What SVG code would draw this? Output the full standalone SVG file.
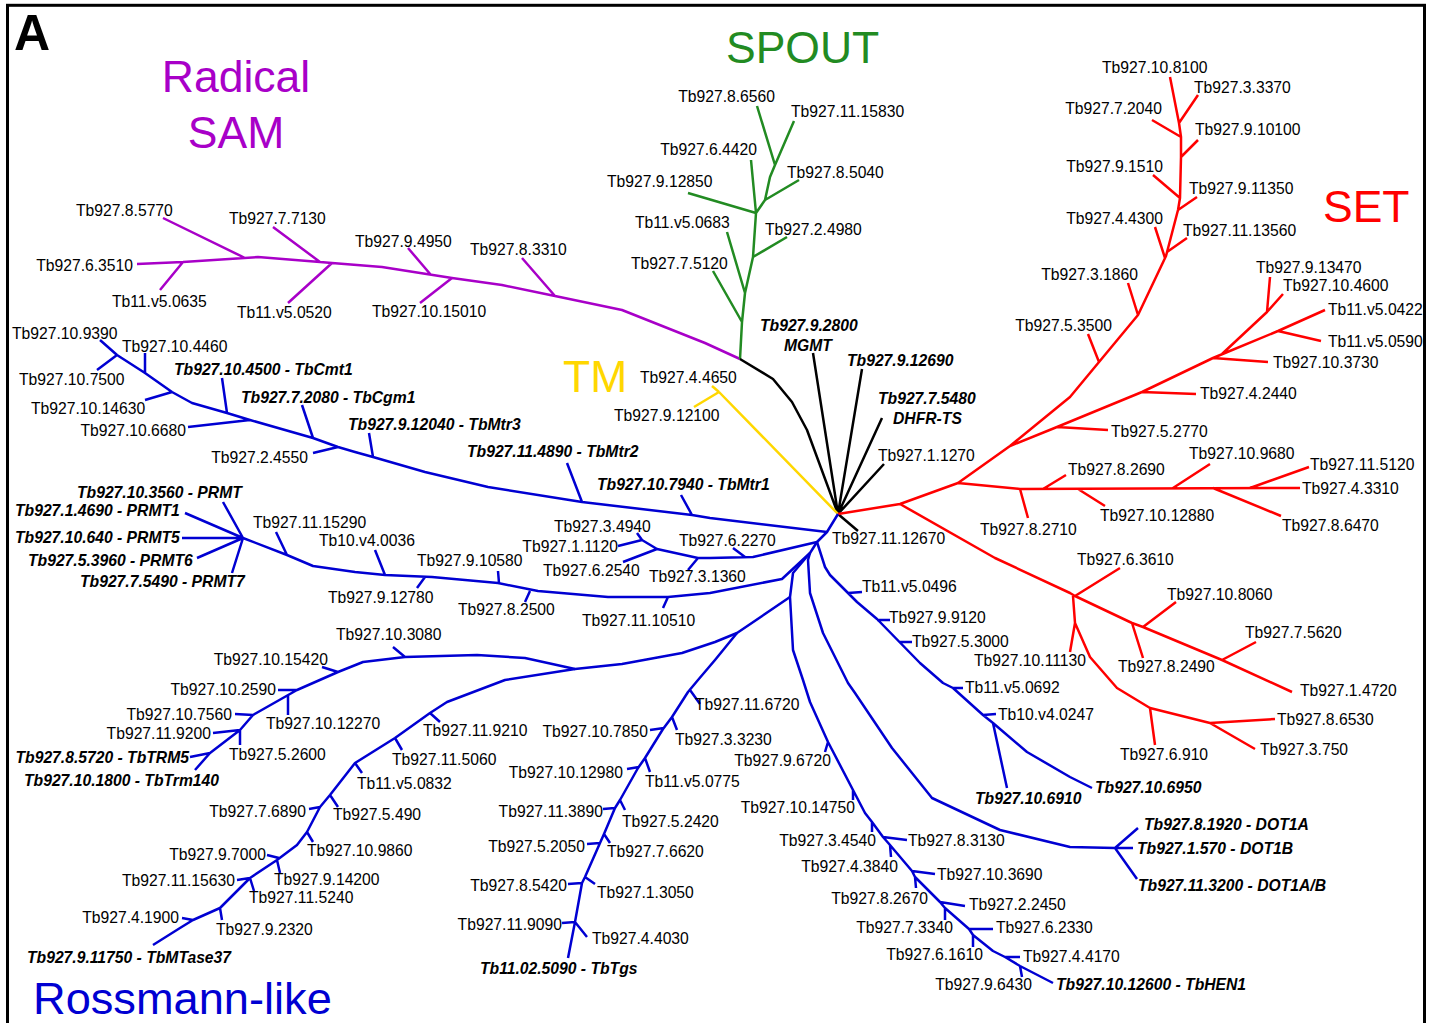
<svg xmlns="http://www.w3.org/2000/svg" width="1431" height="1023" viewBox="0 0 1431 1023">
<style>
.t{font-family:"Liberation Sans",Arial,sans-serif;font-size:15.7px;fill:#000}
.bi{font-weight:bold;font-style:italic}
.e{text-anchor:end}
.big{font-family:"Liberation Sans",Arial,sans-serif;font-size:44.5px}
.ln{fill:none;stroke-width:2.5;stroke-linejoin:round;stroke-linecap:butt}
.pu{stroke:#a800c8}.gr{stroke:#228b22}.bk{stroke:#000}.ye{stroke:#ffd700}.rd{stroke:#ff0000}.bl{stroke:#0000d2}
</style>
<rect x="0" y="0" width="1431" height="1023" fill="#fff"/>
<rect x="7.5" y="5.3" width="1417" height="1040" fill="none" stroke="#000" stroke-width="3"/>
<g id="titles">
<text x="14" y="50" font-family="Liberation Sans,Arial,sans-serif" font-size="50" font-weight="bold">A</text>
<text class="big" x="236" y="92" text-anchor="middle" fill="#a800c8">Radical</text>
<text class="big" x="236" y="148" text-anchor="middle" fill="#a800c8">SAM</text>
<text class="big" x="726" y="63" fill="#228b22">SPOUT</text>
<text class="big" x="1323" y="222" fill="#ff0000">SET</text>
<text class="big" x="563" y="392" fill="#ffd700">TM</text>
<text class="big" x="33" y="1014" fill="#0000d2" style="font-size:45.2px">Rossmann-like</text>
</g>
<g id="connectors">
<path class="ln pu" d="M137,264 L183,262 L258,257 L320,262 L332,263 L382,267 L452,278 L502,285 L555,296 L622,310 L705,343 L740,359 M245,258 L163,218 M183,262 L160,290 M320,262 L273,227 M332,263 L288,303 M431,275 L408,248 M452,278 L420,303 M555,296 L522,258"/>
<path class="ln gr" d="M740,359 L742,322 L745,293 L753,257 L756,213 L765,200 L770,177 L775,165 M775,165 L757,106 M775,165 L794,121 M765,200 L799,180 M756,213 L751,160 M756,213 L688,193 M753,257 L787,237 M745,293 L727,232 M742,322 L713,271"/>
<path class="ln bk" d="M838,514 L807,430 L792,402 L773,379 L740,359 M838,514 L813,353 M838,514 L862,369 M838,514 L882,418 M838,514 L884,464 M838,514 L858,531"/>
<path class="ln ye" d="M838,514 L719,392 M719,392 L694,407 M719,392 L712,386"/>
<path class="ln rd" d="M838,514 L900,504 L958,483 L1010,446 L1070,397 L1138,315 L1166,256 L1178,210 L1180,198 L1181,157 L1181,137 L1179,123 L1170,77 M1179,123 L1198,95 M1181,137 L1152,120 M1181,157 L1198,140 M1180,198 L1153,175 M1178,210 L1197,197 M1165,258 L1155,227 M1167,252 L1187,238 M1138,315 L1128,283 M1099,362 L1088,334 M1010,446 L1057,427 L1142,392 L1213,358 L1225,353 L1278,331 M1057,427 L1108,430 M1142,392 L1196,394 M1213,358 L1268,362 M1222,354 L1267,312 L1270,277 M1267,312 L1283,294 M1278,331 L1325,310 M1278,331 L1321,341 M958,483 L1020,489 L1300,488 M1020,489 L1028,518 M1043,489 L1066,475 M1078,489 L1105,506 M1173,488 L1210,464 M1213,488 L1281,516 M1250,488 L1309,467 M900,504 L995,558 L1070,593 L1075,596 L1132,623 L1143,627 L1222,660 L1292,692 M1075,596 L1120,568 M1132,623 L1143,658 M1143,627 L1176,602 M1222,660 L1256,642 M1073,596 L1075,623 L1070,652 M1075,623 L1090,657 L1110,680 L1117,688 L1150,708 L1210,723 L1275,719 M1210,723 L1255,749 M1150,708 L1155,745"/>
<path class="ln bl" d="M827,532 L710,518 L692,515 L582,502 L488,487 L425,472 L373,457 L355,452 L338,447 L313,438 L250,420 L227,413 L192,403 L172,392 L145,373 L117,355 L100,340 M692,515 L681,495 M582,502 L567,463 M373,457 L369,433 M338,447 L313,453 M313,438 L302,405 M250,420 L188,427 M227,413 L222,378 M172,392 L145,400 M145,373 L145,353 M117,355 L97,370"/>
<path class="ln bl" d="M838,514 L827,532 L817,542 L810,553 L793,573 L790,597 L793,650 L803,680 L810,702 L828,742 L853,790 L865,813 L872,822 L883,837 L890,845 L912,871 L915,877 L940,902 L945,908 L969,929 L973,935 L993,951 L1005,957 L1020,966 L1053,983 M828,742 L825,752 M853,790 L853,800 M872,822 L872,832 M883,837 L907,840 M890,845 L891,857 M912,871 L935,874 M915,877 L916,888 M940,902 L965,906 M945,908 L945,920 M969,929 L993,929 M973,935 L973,947 M1005,957 L1020,957 M1020,966 L1022,977"/>
<path class="ln bl" d="M817,542 L753,557 L710,558 L698,558 L657,549 L642,540 L637,533 M642,540 L618,546 M657,549 L623,562 M745,557 L733,548 M698,558 L688,570"/>
<path class="ln bl" d="M810,553 L782,579 L710,593 L668,597 L608,597 L538,591 L498,583 L432,577 L385,575 L355,572 L313,566 L287,555 L243,538 M668,597 L663,608 M530,591 L525,602 M499,583 L498,571 M425,577 L417,588 M385,575 L375,550 M287,555 L276,532 M243,538 L223,502 M243,538 L185,513 M243,538 L182,538 M243,538 L197,558 M243,538 L232,573"/>
<path class="ln bl" d="M817,542 L825,567 L830,575 L857,602 L877,619 L920,663 L943,683 L953,688 L983,715 L993,723 L1027,752 L1070,777 L1092,788 M848,593 L862,592 M877,620 L890,620 M900,642 L912,642 M953,688 L963,688 M983,715 L996,714 M993,723 L1007,788"/>
<path class="ln bl" d="M810,553 L808,560 L810,593 L823,633 L848,683 L855,693 L892,748 L932,798 L1000,830 L1070,847 L1115,848 M1115,848 L1138,828 M1115,848 L1133,848 M1115,848 L1137,879"/>
<path class="ln bl" d="M790,597 L737,633 L715,642 L682,653 L622,664 L575,669 L525,658 L477,655 L405,657 L363,662 L338,672 L297,690 L253,715 L240,730 L210,753 L195,770 M405,657 L393,647 M338,672 L322,667 M297,690 L278,690 M288,695 L288,715 M253,715 L235,714 M240,730 L213,733 M240,730 L240,745 M210,753 L190,757"/>
<path class="ln bl" d="M575,669 L505,680 L447,702 L430,713 L395,738 L355,763 L330,795 L320,807 L307,832 L297,845 L277,860 L250,878 L220,908 L193,920 L180,928 L153,945 M430,713 L440,722 M395,738 L402,750 M355,763 L362,773 M330,795 L338,807 M320,807 L309,809 M307,832 L313,842 M279,858 L267,855 M277,860 L280,873 M250,878 L237,880 M250,878 L254,891 M220,908 L222,920 M193,920 L182,918"/>
<path class="ln bl" d="M737,633 L715,660 L698,680 L688,692 L672,717 L663,729 L645,758 L638,768 L620,800 L615,808 L604,834 L600,843 L585,877 L582,883 L575,922 L568,958 M690,690 L700,704 M672,717 L677,730 M664,728 L650,730 M645,758 L650,772 M639,767 L627,769 M620,800 L625,810 M615,808 L603,809 M604,834 L610,843 M600,843 L587,844 M585,877 L595,884 M582,883 L568,884 M575,922 L562,923 M575,922 L587,937"/>
</g>
<g id="n_8_5770"><text class="t" x="76" y="216">Tb927.8.5770</text></g>
<g id="n_7_7130"><text class="t" x="229" y="224">Tb927.7.7130</text></g>
<g id="n_9_4950"><text class="t" x="355" y="247">Tb927.9.4950</text></g>
<g id="n_8_3310"><text class="t" x="470" y="255">Tb927.8.3310</text></g>
<g id="n_6_3510"><text class="t e" x="133" y="271">Tb927.6.3510</text></g>
<g id="n_11_0635"><text class="t" x="112" y="307">Tb11.v5.0635</text></g>
<g id="n_11_0520"><text class="t" x="237" y="318">Tb11.v5.0520</text></g>
<g id="n_10_15010"><text class="t" x="372" y="317">Tb927.10.15010</text></g>
<g id="n_8_6560"><text class="t e" x="775" y="102">Tb927.8.6560</text></g>
<g id="n_11_15830"><text class="t" x="791" y="117">Tb927.11.15830</text></g>
<g id="n_6_4420"><text class="t e" x="757" y="155">Tb927.6.4420</text></g>
<g id="n_8_5040"><text class="t" x="787" y="178">Tb927.8.5040</text></g>
<g id="n_9_12850"><text class="t" x="607" y="187">Tb927.9.12850</text></g>
<g id="n_11_0683"><text class="t" x="635" y="228">Tb11.v5.0683</text></g>
<g id="n_2_4980"><text class="t" x="765" y="235">Tb927.2.4980</text></g>
<g id="n_7_5120"><text class="t" x="631" y="269">Tb927.7.5120</text></g>
<g id="n_9_2800"><text class="t bi" x="760" y="331">Tb927.9.2800</text><text class="t bi" x="784" y="351">MGMT</text></g>
<g id="n_9_12690"><text class="t bi" x="847" y="366">Tb927.9.12690</text></g>
<g id="n_7_5480"><text class="t bi" x="878" y="404">Tb927.7.5480</text><text class="t bi" x="893" y="424">DHFR-TS</text></g>
<g id="n_1_1270"><text class="t" x="878" y="461">Tb927.1.1270</text></g>
<g id="n_11_12670"><text class="t" x="832" y="544">Tb927.11.12670</text></g>
<g id="n_4_4650"><text class="t" x="640" y="383">Tb927.4.4650</text></g>
<g id="n_9_12100"><text class="t" x="614" y="421">Tb927.9.12100</text></g>
<g id="n_10_8100"><text class="t" x="1102" y="73">Tb927.10.8100</text></g>
<g id="n_3_3370"><text class="t" x="1194" y="93">Tb927.3.3370</text></g>
<g id="n_7_2040"><text class="t e" x="1162" y="114">Tb927.7.2040</text></g>
<g id="n_9_10100"><text class="t" x="1195" y="135">Tb927.9.10100</text></g>
<g id="n_9_1510"><text class="t e" x="1163" y="172">Tb927.9.1510</text></g>
<g id="n_9_11350"><text class="t" x="1189" y="194">Tb927.9.11350</text></g>
<g id="n_4_4300"><text class="t e" x="1163" y="224">Tb927.4.4300</text></g>
<g id="n_11_13560"><text class="t" x="1183" y="236">Tb927.11.13560</text></g>
<g id="n_3_1860"><text class="t e" x="1138" y="280">Tb927.3.1860</text></g>
<g id="n_5_3500"><text class="t e" x="1112" y="331">Tb927.5.3500</text></g>
<g id="n_9_13470"><text class="t" x="1256" y="273">Tb927.9.13470</text></g>
<g id="n_10_4600"><text class="t" x="1283" y="291">Tb927.10.4600</text></g>
<g id="n_11_0422"><text class="t" x="1328" y="315">Tb11.v5.0422</text></g>
<g id="n_11_0590"><text class="t" x="1328" y="347">Tb11.v5.0590</text></g>
<g id="n_10_3730"><text class="t" x="1273" y="368">Tb927.10.3730</text></g>
<g id="n_4_2440"><text class="t" x="1200" y="399">Tb927.4.2440</text></g>
<g id="n_5_2770"><text class="t" x="1111" y="437">Tb927.5.2770</text></g>
<g id="n_10_9680"><text class="t" x="1189" y="459">Tb927.10.9680</text></g>
<g id="n_8_2690"><text class="t" x="1068" y="475">Tb927.8.2690</text></g>
<g id="n_11_5120"><text class="t" x="1310" y="470">Tb927.11.5120</text></g>
<g id="n_4_3310"><text class="t" x="1302" y="494">Tb927.4.3310</text></g>
<g id="n_10_12880"><text class="t" x="1100" y="521">Tb927.10.12880</text></g>
<g id="n_8_6470"><text class="t" x="1282" y="531">Tb927.8.6470</text></g>
<g id="n_8_2710"><text class="t" x="980" y="535">Tb927.8.2710</text></g>
<g id="n_6_3610"><text class="t" x="1077" y="565">Tb927.6.3610</text></g>
<g id="n_10_8060"><text class="t" x="1167" y="600">Tb927.10.8060</text></g>
<g id="n_7_5620"><text class="t" x="1245" y="638">Tb927.7.5620</text></g>
<g id="n_10_11130"><text class="t" x="974" y="666">Tb927.10.11130</text></g>
<g id="n_8_2490"><text class="t" x="1118" y="672">Tb927.8.2490</text></g>
<g id="n_1_4720"><text class="t" x="1300" y="696">Tb927.1.4720</text></g>
<g id="n_8_6530"><text class="t" x="1277" y="725">Tb927.8.6530</text></g>
<g id="n_3_750"><text class="t" x="1260" y="755">Tb927.3.750</text></g>
<g id="n_6_910"><text class="t" x="1120" y="760">Tb927.6.910</text></g>
<g id="n_10_9390"><text class="t" x="12" y="339">Tb927.10.9390</text></g>
<g id="n_10_4460"><text class="t" x="122" y="352">Tb927.10.4460</text></g>
<g id="n_10_4500"><text class="t bi" x="174" y="375">Tb927.10.4500 - TbCmt1</text></g>
<g id="n_10_7500"><text class="t" x="19" y="385">Tb927.10.7500</text></g>
<g id="n_7_2080"><text class="t bi" x="241" y="403">Tb927.7.2080 - TbCgm1</text></g>
<g id="n_10_14630"><text class="t" x="31" y="414">Tb927.10.14630</text></g>
<g id="n_10_6680"><text class="t e" x="186" y="436">Tb927.10.6680</text></g>
<g id="n_9_12040"><text class="t bi" x="348" y="430">Tb927.9.12040 - TbMtr3</text></g>
<g id="n_2_4550"><text class="t e" x="308" y="463">Tb927.2.4550</text></g>
<g id="n_11_4890"><text class="t bi" x="467" y="457">Tb927.11.4890 - TbMtr2</text></g>
<g id="n_10_7940"><text class="t bi" x="597" y="490">Tb927.10.7940 - TbMtr1</text></g>
<g id="n_10_3560"><text class="t bi" x="77" y="498">Tb927.10.3560 - PRMT</text></g>
<g id="n_1_4690"><text class="t bi" x="15" y="516">Tb927.1.4690 - PRMT1</text></g>
<g id="n_10_640"><text class="t bi" x="15" y="543">Tb927.10.640 - PRMT5</text></g>
<g id="n_5_3960"><text class="t bi" x="28" y="566">Tb927.5.3960 - PRMT6</text></g>
<g id="n_7_5490"><text class="t bi" x="80" y="587">Tb927.7.5490 - PRMT7</text></g>
<g id="n_11_15290"><text class="t" x="253" y="528">Tb927.11.15290</text></g>
<g id="n_10v4_0036"><text class="t" x="319" y="546">Tb10.v4.0036</text></g>
<g id="n_9_10580"><text class="t" x="417" y="566">Tb927.9.10580</text></g>
<g id="n_9_12780"><text class="t" x="328" y="603">Tb927.9.12780</text></g>
<g id="n_8_2500"><text class="t" x="458" y="615">Tb927.8.2500</text></g>
<g id="n_11_10510"><text class="t" x="582" y="626">Tb927.11.10510</text></g>
<g id="n_3_4940"><text class="t" x="554" y="532">Tb927.3.4940</text></g>
<g id="n_1_1120"><text class="t e" x="618" y="552">Tb927.1.1120</text></g>
<g id="n_6_2540"><text class="t" x="543" y="576">Tb927.6.2540</text></g>
<g id="n_6_2270"><text class="t" x="679" y="546">Tb927.6.2270</text></g>
<g id="n_3_1360"><text class="t" x="649" y="582">Tb927.3.1360</text></g>
<g id="n_10_3080"><text class="t" x="336" y="640">Tb927.10.3080</text></g>
<g id="n_10_15420"><text class="t e" x="328" y="665">Tb927.10.15420</text></g>
<g id="n_10_2590"><text class="t e" x="276" y="695">Tb927.10.2590</text></g>
<g id="n_10_7560"><text class="t e" x="232" y="720">Tb927.10.7560</text></g>
<g id="n_10_12270"><text class="t" x="266" y="729">Tb927.10.12270</text></g>
<g id="n_11_9200"><text class="t e" x="211" y="739">Tb927.11.9200</text></g>
<g id="n_5_2600"><text class="t" x="229" y="760">Tb927.5.2600</text></g>
<g id="n_8_5720"><text class="t bi e" x="189" y="763">Tb927.8.5720 - TbTRM5</text></g>
<g id="n_10_1800"><text class="t bi" x="24" y="786">Tb927.10.1800 - TbTrm140</text></g>
<g id="n_11_9210"><text class="t" x="423" y="736">Tb927.11.9210</text></g>
<g id="n_11_5060"><text class="t" x="392" y="765">Tb927.11.5060</text></g>
<g id="n_11_0832"><text class="t" x="357" y="789">Tb11.v5.0832</text></g>
<g id="n_7_6890"><text class="t e" x="306" y="817">Tb927.7.6890</text></g>
<g id="n_5_490"><text class="t" x="333" y="820">Tb927.5.490</text></g>
<g id="n_10_9860"><text class="t" x="307" y="856">Tb927.10.9860</text></g>
<g id="n_9_7000"><text class="t e" x="266" y="860">Tb927.9.7000</text></g>
<g id="n_9_14200"><text class="t" x="274" y="885">Tb927.9.14200</text></g>
<g id="n_11_15630"><text class="t e" x="235" y="886">Tb927.11.15630</text></g>
<g id="n_11_5240"><text class="t" x="249" y="903">Tb927.11.5240</text></g>
<g id="n_4_1900"><text class="t e" x="179" y="923">Tb927.4.1900</text></g>
<g id="n_9_2320"><text class="t" x="216" y="935">Tb927.9.2320</text></g>
<g id="n_9_11750"><text class="t bi" x="27" y="963">Tb927.9.11750 - TbMTase37</text></g>
<g id="n_11_6720"><text class="t" x="695" y="710">Tb927.11.6720</text></g>
<g id="n_10_7850"><text class="t e" x="648" y="737">Tb927.10.7850</text></g>
<g id="n_3_3230"><text class="t" x="675" y="745">Tb927.3.3230</text></g>
<g id="n_10_12980"><text class="t e" x="623" y="778">Tb927.10.12980</text></g>
<g id="n_11_0775"><text class="t" x="645" y="787">Tb11.v5.0775</text></g>
<g id="n_11_3890"><text class="t e" x="603" y="817">Tb927.11.3890</text></g>
<g id="n_5_2420"><text class="t" x="622" y="827">Tb927.5.2420</text></g>
<g id="n_5_2050"><text class="t e" x="585" y="852">Tb927.5.2050</text></g>
<g id="n_7_6620"><text class="t" x="607" y="857">Tb927.7.6620</text></g>
<g id="n_8_5420"><text class="t e" x="567" y="891">Tb927.8.5420</text></g>
<g id="n_1_3050"><text class="t" x="597" y="898">Tb927.1.3050</text></g>
<g id="n_11_9090"><text class="t e" x="562" y="930">Tb927.11.9090</text></g>
<g id="n_4_4030"><text class="t" x="592" y="944">Tb927.4.4030</text></g>
<g id="n_02_5090"><text class="t bi" x="480" y="974">Tb11.02.5090 - TbTgs</text></g>
<g id="n_9_6720"><text class="t e" x="831" y="766">Tb927.9.6720</text></g>
<g id="n_10_14750"><text class="t e" x="855" y="813">Tb927.10.14750</text></g>
<g id="n_3_4540"><text class="t e" x="876" y="846">Tb927.3.4540</text></g>
<g id="n_8_3130"><text class="t" x="908" y="846">Tb927.8.3130</text></g>
<g id="n_4_3840"><text class="t e" x="898" y="872">Tb927.4.3840</text></g>
<g id="n_10_3690"><text class="t" x="937" y="880">Tb927.10.3690</text></g>
<g id="n_8_2670"><text class="t e" x="928" y="904">Tb927.8.2670</text></g>
<g id="n_2_2450"><text class="t" x="969" y="910">Tb927.2.2450</text></g>
<g id="n_7_3340"><text class="t e" x="953" y="933">Tb927.7.3340</text></g>
<g id="n_6_2330"><text class="t" x="996" y="933">Tb927.6.2330</text></g>
<g id="n_6_1610"><text class="t e" x="983" y="960">Tb927.6.1610</text></g>
<g id="n_4_4170"><text class="t" x="1023" y="962">Tb927.4.4170</text></g>
<g id="n_9_6430"><text class="t e" x="1032" y="990">Tb927.9.6430</text></g>
<g id="n_10_12600"><text class="t bi" x="1056" y="990">Tb927.10.12600 - TbHEN1</text></g>
<g id="n_11_0496"><text class="t" x="862" y="592">Tb11.v5.0496</text></g>
<g id="n_9_9120"><text class="t" x="889" y="623">Tb927.9.9120</text></g>
<g id="n_5_3000"><text class="t" x="912" y="647">Tb927.5.3000</text></g>
<g id="n_11_0692"><text class="t" x="965" y="693">Tb11.v5.0692</text></g>
<g id="n_10v4_0247"><text class="t" x="998" y="720">Tb10.v4.0247</text></g>
<g id="n_10_6910"><text class="t bi" x="975" y="804">Tb927.10.6910</text></g>
<g id="n_10_6950"><text class="t bi" x="1095" y="793">Tb927.10.6950</text></g>
<g id="n_8_1920"><text class="t bi" x="1144" y="830">Tb927.8.1920 - DOT1A</text></g>
<g id="n_1_570"><text class="t bi" x="1137" y="854">Tb927.1.570 - DOT1B</text></g>
<g id="n_11_3200"><text class="t bi" x="1138" y="891">Tb927.11.3200 - DOT1A/B</text></g>
</svg>
